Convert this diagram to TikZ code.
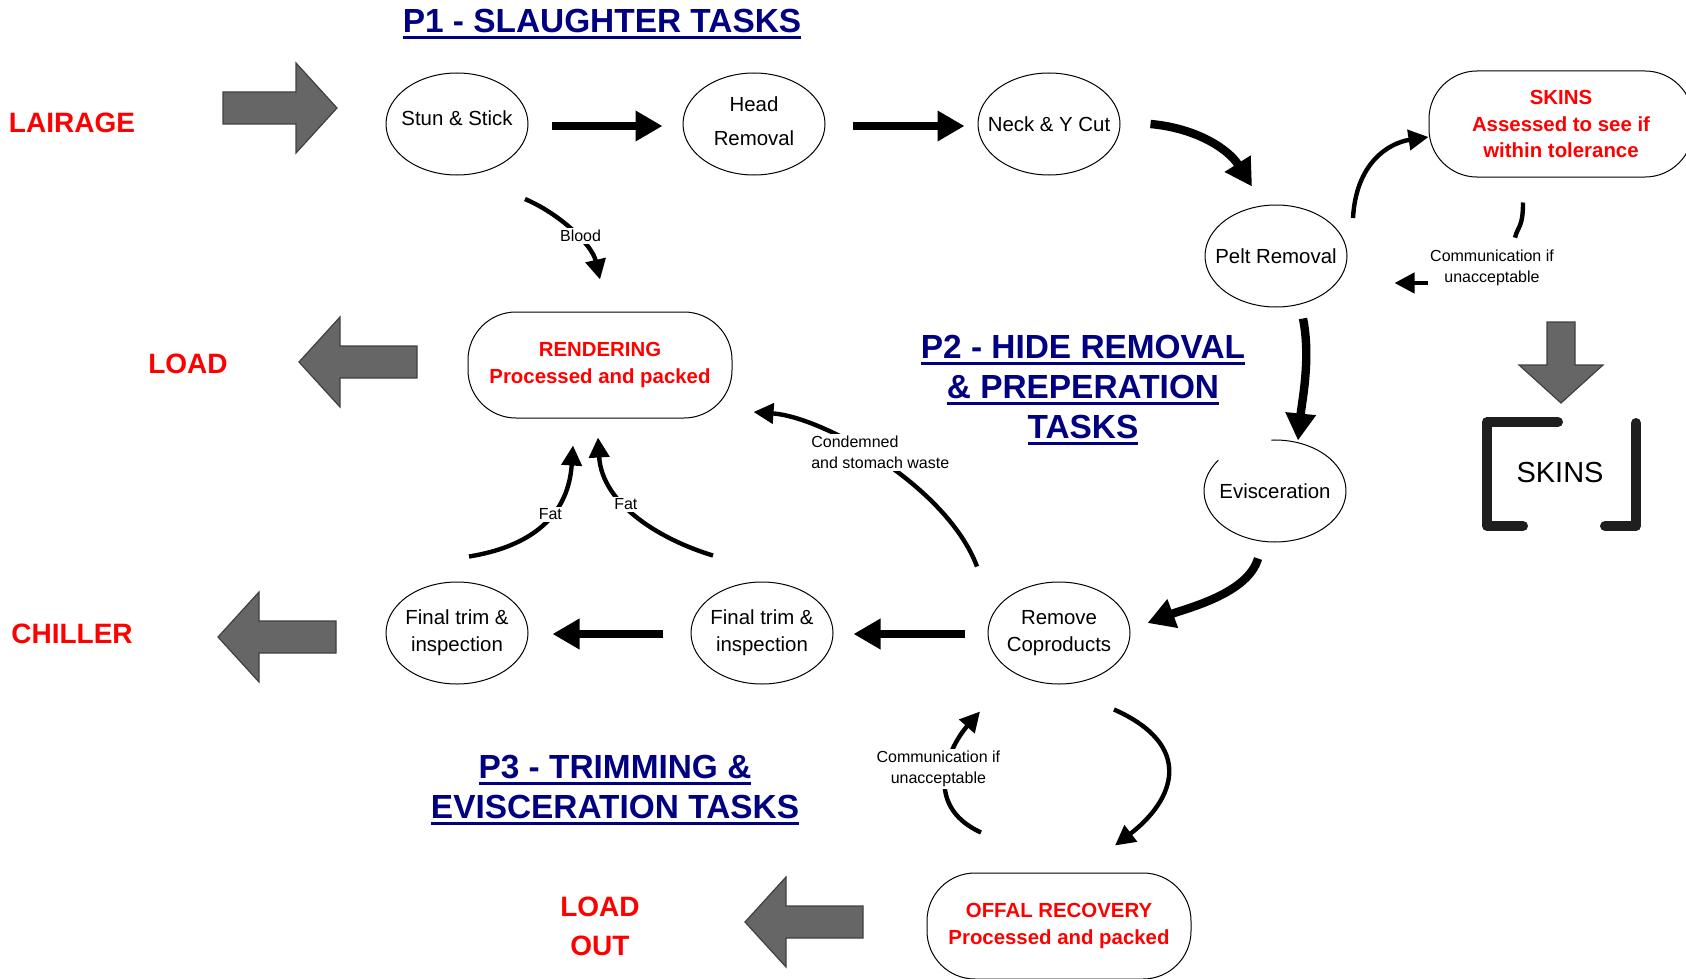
\documentclass[tikz,border=0pt]{standalone}
\usepackage{fontspec}
\setmainfont{Liberation Sans}
\usetikzlibrary{arrows.meta,shapes.geometric}
\newcommand\titleul[1]{\setbox0=\hbox{#1}\rlap{\rule[-3pt]{\wd0}{1.5pt}}\box0}
\definecolor{titleblue}{RGB}{0,0,128}
\definecolor{blockgray}{RGB}{102,102,102}
\def\leftblock{-- ++(41,-45) -- ++(0,29) -- ++(77,0) -- ++(0,32) -- ++(-77,0) -- ++(0,29) -- cycle}
\def\rightblock{-- ++(-41,-45) -- ++(0,29) -- ++(-73,0) -- ++(0,32) -- ++(73,0) -- ++(0,29) -- cycle}
\def\downblock{-- ++(-42,-38) -- ++(28,0) -- ++(0,-43) -- ++(28,0) -- ++(0,43) -- ++(28,0) -- cycle}
\tikzset{
    task/.style={ellipse, draw, line width=0.5pt, minimum width=71pt, minimum height=51pt,
        inner xsep=-6pt, inner ysep=0pt, align=center, font=\fontsize{10.2}{13.4}\selectfont},
    outbox/.style={rectangle, rounded corners=24pt, draw, line width=0.5pt, minimum width=132pt,
        minimum height=53pt, text=red, align=center, font=\bfseries\fontsize{10.2}{13.4}\selectfont},
    place/.style={text=red, align=center, font=\bfseries\fontsize{14}{19.5}\selectfont},
    phase/.style={text=titleblue, align=center, font=\bfseries\fontsize{16.7}{20}\selectfont},
    note/.style={fill=white, inner sep=1pt, align=center, font=\fontsize{8}{10.5}\selectfont},
    flow/.style={line width=4.2pt, -{Triangle[length=13.5pt,width=14.5pt]}},
    link/.style={line width=2.2pt, -{Triangle[length=10pt,width=10pt]}},
    blockarrow/.style={fill=blockgray, draw=black!75, line width=0.6pt},
    bin/.style={line width=5pt, line cap=round, line join=round, draw=black!88}
}
\begin{document}
\begin{tikzpicture}[x=0.5pt, y=-0.5pt]
    \useasboundingbox (0,0) rectangle (1686,979);
    \clip (0,0) rectangle (1686,979);
    \node[phase, anchor=base] (p1) at (602,33) {\titleul{P1 - SLAUGHTER TASKS}};
    \node[phase] (p2) at (1083,390) {\titleul{P2 - HIDE REMOVAL}\\\titleul{\& PREPERATION}\\\titleul{TASKS}};
    \node[phase] (p3) at (615,790) {\titleul{P3 - TRIMMING \&}\\\titleul{EVISCERATION TASKS}};

    \node[place, anchor=base] (lairage) at (72,133) {LAIRAGE};
    \node[place, anchor=base] (load) at (188,373) {LOAD};
    \node[place, anchor=base] (chiller) at (72,643) {CHILLER};
    \node[place] (loadout) at (600,926) {LOAD\\OUT};

    \node[task] (stun) at (457,124) {\raisebox{3pt}[\height][\depth]{Stun \& Stick}};
    \node[task] (head) at (754,124) {\raisebox{1.5pt}[\height][\depth]{Head}\\[3.6pt]\raisebox{1.5pt}[\height][\depth]{Removal}};
    \node[task] (neck) at (1049,124) {Neck \& Y Cut};
    \node[task] (pelt) at (1276,256) {Pelt Removal};
    \node[task, draw=none] (evis) at (1275,491) {Evisceration};
    \node[task] (copro) at (1059,633) {Remove\\Coproducts};
    \node[task] (trimB) at (762,633) {Final trim \&\\inspection};
    \node[task] (trimA) at (457,633) {Final trim \&\\inspection};
    \draw[line width=0.5pt] ([shift={(-56.7,-30.7)}]evis.center) arc[start angle=-143, end angle=-453, x radius=71, y radius=51];

    \node[outbox] (skins) at (1561,124) {SKINS\\Assessed to see if\\within tolerance};
    \node[outbox] (render) at (600,365) {RENDERING\\Processed and packed};
    \node[outbox] (offal) at (1059,926) {OFFAL RECOVERY\\Processed and packed};
    \node[font=\fontsize{14.5}{17}\selectfont] (skinbin) at (1560,473) {SKINS};

    \draw[blockarrow] (337,108) \rightblock;
    \draw[blockarrow] (299,362) \leftblock;
    \draw[blockarrow] (218,637) \leftblock;
    \draw[blockarrow] (745,922) \leftblock;
    \draw[blockarrow] (1561,403) \downblock;
    \draw[bin] (1558,422) -- (1487,422) -- (1487,526) -- (1523,526);
    \draw[bin] (1605,526) -- (1636,526) -- (1636,423);

    \draw[flow] ([shift={(23,2)}]stun.east) -- ([shift={(-20,2)}]head.west);
    \draw[flow] ([shift={(27,2)}]head.east) -- ([shift={(-13,2)}]neck.west);
    \draw[flow] ([shift={(30,0)}]neck.east) .. controls +(45,4) and +(-24,-38) .. ([shift={(-24,-18)}]pelt.north);
    \draw[flow] ([shift={(27,11)}]pelt.south) .. controls +(8,40) and +(4,-40) .. ([shift={(23,1)}]evis.north);
    \draw[flow] ([shift={(-17,16)}]evis.south) .. controls +(-10,35) and +(40,-15) .. ([shift={(17,-10)}]copro.east);
    \draw[flow] ([shift={(-23,1)}]copro.west) -- ([shift={(20,1)}]trimB.east);
    \draw[flow] ([shift={(-28,1)}]trimB.west) -- ([shift={(24,1)}]trimA.east);

    \draw[link] ([shift={(77,-38)}]pelt.center) .. controls +(3,-55) and +(-40,6) .. ([shift={(0,13)}]skins.west);
    \node[note] (commA) at (1492,268) {Communication if\\unacceptable};
    \draw[line width=2.2pt] ([shift={(-38,25)}]skins.south) .. controls +(0,25) and +(3,-12) .. ([shift={(23,-10)}]commA.north);
    \draw[link] ([shift={(0,15)}]commA.west) -- ([shift={(47,27)}]pelt.east);
    \draw[link] ([shift={(68,75)}]stun.center) .. controls +(35,15) and +(-8,-35) .. ([shift={(0,-32)}]render.north) node[note, pos=.55, xshift=2pt] {Blood};
    \draw[link] ([shift={(12,-25)}]trimA.north) .. controls +(56,-9) and +(-5,75) .. ([shift={(-27,27)}]render.south) node[note, pos=.6] {Fat};
    \draw[link] ([shift={(-49,-26)}]trimB.north) .. controls +(-50,-15) and +(4,68) .. ([shift={(-2,19)}]render.south) node[note, pos=.6] {Fat};
    \draw[link] ([shift={(-82,-15)}]copro.north) .. controls +(-30,-80) and +(70,5) .. ([shift={(21,47)}]render.east) node[note, pos=.5, yshift=4.5pt, align=left] {Condemned\\ and stomach waste};
    \draw[link] ([shift={(55,25)}]copro.south) .. controls +(81,36) and +(60,-46) .. ([shift={(56,-27)}]offal.north);
    \draw[link] ([shift={(-78,-40)}]offal.north) .. controls +(-61,-28) and +(-30,34) .. ([shift={(-79,27)}]copro.south) node[note, pos=.5, xshift=-4pt, yshift=2.5pt] {Communication if\\unacceptable};
\end{tikzpicture}
\end{document}
